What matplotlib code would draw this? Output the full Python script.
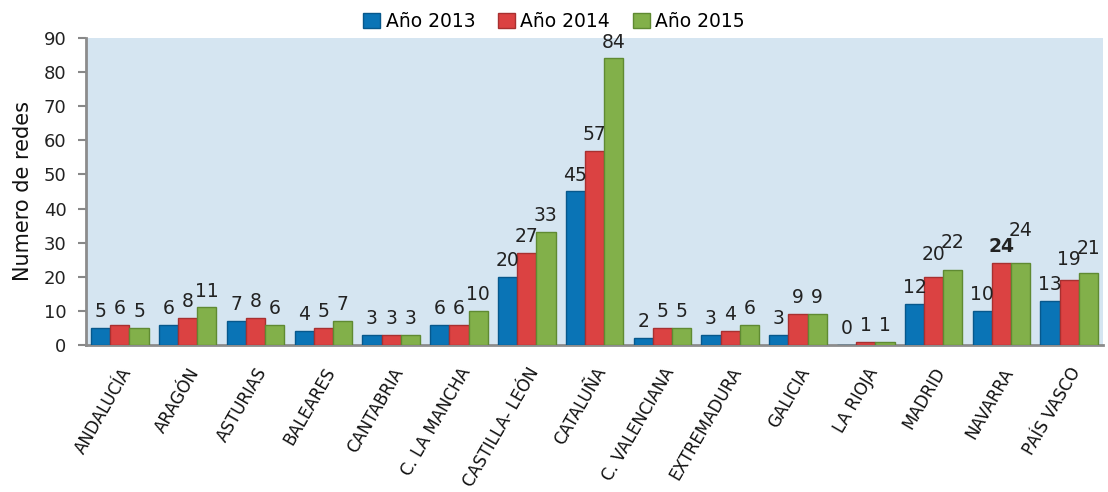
import matplotlib
matplotlib.use("Agg")
import matplotlib.pyplot as plt
import numpy as np

categories = ["ANDALUCÍA", "ARAGÓN", "ASTURIAS", "BALEARES", "CANTABRIA",
              "C. LA MANCHA", "CASTILLA- LEÓN", "CATALUÑA", "C. VALENCIANA",
              "EXTREMADURA", "GALICIA", "LA RIOJA", "MADRID", "NAVARRA", "PAÍS VASCO"]
y2013 = [5, 6, 7, 4, 3, 6, 20, 45, 2, 3, 3, 0, 12, 10, 13]
y2014 = [6, 8, 8, 5, 3, 6, 27, 57, 5, 4, 9, 1, 20, 24, 19]
y2015 = [5, 11, 6, 7, 3, 10, 33, 84, 5, 6, 9, 1, 22, 24, 21]
series_names = ["Año 2013", "Año 2014", "Año 2015"]
yticks = [0, 10, 20, 30, 40, 50, 60, 70, 80, 90]

colors = ["#0a74b6", "#db4242", "#82b04a"]
edges = ["#07588c", "#a83030", "#5f8a32"]

fig = plt.figure(figsize=(11.08, 4.92), dpi=100)
ax = fig.add_axes([0.0776, 0.2988, 0.918, 0.624])
ax.set_facecolor("#d5e5f1")

# extra vertical offsets (points) for crowded labels: (series index, category)
extra = {(2, "NAVARRA"): 12, (2, "MADRID"): 8, (1, "MADRID"): 4,
         (2, "PAÍS VASCO"): 6, (1, "PAÍS VASCO"): 3}

x = np.arange(len(categories))
w = 0.283
for i, (vals, name) in enumerate(zip([y2013, y2014, y2015], series_names)):
    pos = x + (i - 1) * w
    bars = ax.bar(pos, vals, width=w, color=colors[i], edgecolor=edges[i],
                  linewidth=1, label=name, zorder=3)
    for j, (b, v) in enumerate(zip(bars, vals)):
        weight = "bold" if (i == 1 and categories[j] == "NAVARRA") else "normal"
        dy = 5 + extra.get((i, categories[j]), 0)
        ax.annotate(str(v), (b.get_x() + b.get_width() / 2, v),
                    xytext=(0, dy), textcoords="offset points",
                    ha="center", va="bottom", fontsize=13.5, color="#222222",
                    fontweight=weight, zorder=4)

ax.set_xlim(-0.5, len(categories) - 0.5)
ax.set_ylim(0, 90)
ax.set_yticks(yticks)
ax.tick_params(axis="y", labelsize=13, length=6, width=1.5, pad=8, colors="#222222")
ax.tick_params(axis="y", color="#888888")
ax.set_xticks(x)
ax.set_xticklabels(categories, rotation=60, ha="right", rotation_mode="anchor",
                   fontsize=12, color="#111111")
ax.tick_params(axis="x", length=0, pad=14)
for s in ["top", "right"]:
    ax.spines[s].set_visible(False)
for s in ["left", "bottom"]:
    ax.spines[s].set_color("#8c8c8c")
    ax.spines[s].set_linewidth(2)
ax.set_ylabel("Numero de redes", fontsize=15, color="#111111", labelpad=8)

fig.legend(loc="upper center", bbox_to_anchor=(0.5, 1.01), ncol=3, frameon=False,
           fontsize=13.5, handlelength=0.9, handleheight=0.9, handletextpad=0.3,
           columnspacing=1.2)

fig.savefig("out.png", dpi=100)
